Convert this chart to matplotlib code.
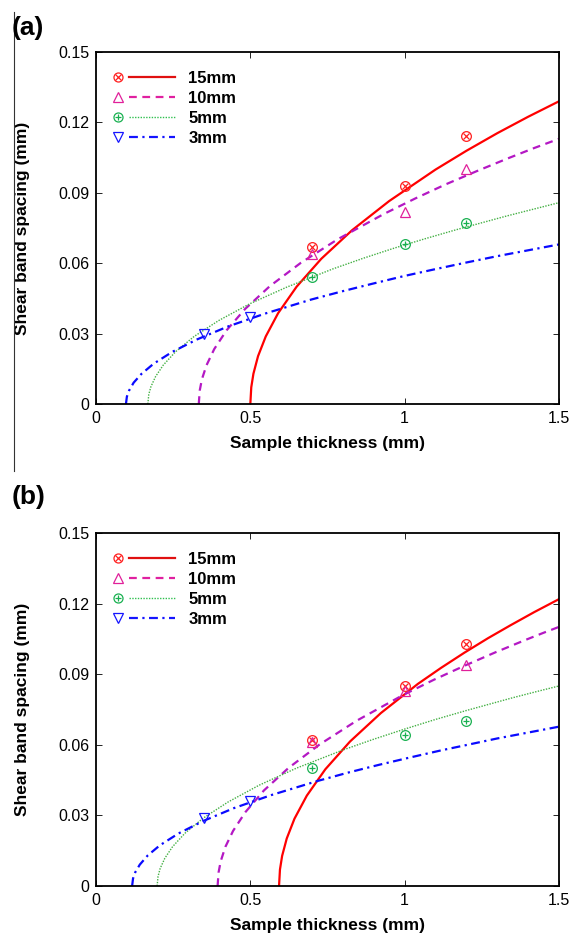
import matplotlib
matplotlib.use('Agg')
import matplotlib.pyplot as plt
from matplotlib.lines import Line2D
from matplotlib.legend_handler import HandlerBase

plt.rcParams['font.family'] = ['Liberation Sans', 'DejaVu Sans']

series_names = ['15mm', '10mm', '5mm', '3mm']

# measured points
pts_x_a = [[0.7, 1.0, 1.2], [0.7, 1.0, 1.2], [0.7, 1.0, 1.2], [0.35, 0.5]]
pts_y_a = [[0.067, 0.093, 0.114],
           [0.064, 0.082, 0.100],
           [0.054, 0.068, 0.077],
           [0.030, 0.037]]
pts_x_b = [[0.7, 1.0, 1.2], [0.7, 1.0, 1.2], [0.7, 1.0, 1.2], [0.35, 0.5]]
pts_y_b = [[0.062, 0.085, 0.103],
           [0.061, 0.083, 0.094],
           [0.050, 0.064, 0.070],
           [0.029, 0.036]]

# fitted curves
fit_x_a = [
    [0.5, 0.503, 0.51, 0.525, 0.55, 0.59, 0.65, 0.73, 0.83, 0.95, 1.1, 1.2, 1.3, 1.4, 1.5],
    [0.333, 0.336, 0.343, 0.358, 0.383, 0.423, 0.483, 0.563, 0.663, 0.783, 0.933, 1.033, 1.133, 1.233, 1.333, 1.42, 1.5],
    [0.168, 0.171, 0.178, 0.193, 0.218, 0.258, 0.318, 0.398, 0.498, 0.618, 0.768, 0.868, 0.968, 1.068, 1.168, 1.33, 1.5],
    [0.097, 0.1, 0.107, 0.122, 0.147, 0.187, 0.247, 0.327, 0.427, 0.547, 0.697, 0.797, 0.897, 0.997, 1.097, 1.2, 1.3, 1.4, 1.5],
]
fit_y_a = [
    [0, 0.0071, 0.0129, 0.0204, 0.0288, 0.0387, 0.05, 0.0619, 0.0741, 0.0865, 0.0999, 0.1079, 0.1154, 0.1224, 0.129],
    [0, 0.0057, 0.0105, 0.0165, 0.0234, 0.0314, 0.0405, 0.0502, 0.0601, 0.0702, 0.081, 0.0875, 0.0936, 0.0992, 0.1046, 0.1091, 0.113],
    [0, 0.0041, 0.0074, 0.0117, 0.0166, 0.0223, 0.0288, 0.0356, 0.0427, 0.0498, 0.0576, 0.0622, 0.0665, 0.0705, 0.0743, 0.0801, 0.0858],
    [0, 0.0031, 0.0057, 0.0091, 0.0128, 0.0172, 0.0222, 0.0275, 0.033, 0.0385, 0.0445, 0.048, 0.0513, 0.0545, 0.0574, 0.0603, 0.063, 0.0655, 0.068],
]
fit_x_b = [
    [0.593, 0.596, 0.603, 0.618, 0.643, 0.683, 0.743, 0.823, 0.923, 1.043, 1.118, 1.193, 1.27, 1.343, 1.42, 1.5],
    [0.394, 0.397, 0.404, 0.419, 0.444, 0.484, 0.544, 0.624, 0.724, 0.844, 0.994, 1.094, 1.194, 1.294, 1.394, 1.45, 1.5],
    [0.198, 0.201, 0.208, 0.223, 0.248, 0.288, 0.348, 0.428, 0.528, 0.648, 0.798, 0.898, 0.998, 1.098, 1.198, 1.35, 1.43, 1.5],
    [0.117, 0.12, 0.127, 0.142, 0.167, 0.207, 0.267, 0.347, 0.447, 0.567, 0.717, 0.817, 0.917, 1.017, 1.117, 1.2, 1.3, 1.4, 1.5],
]
fit_y_b = [
    [0, 0.007, 0.0128, 0.0202, 0.0286, 0.0384, 0.0496, 0.0614, 0.0735, 0.0859, 0.0927, 0.0991, 0.1053, 0.1108, 0.1164, 0.1219],
    [0, 0.0057, 0.0105, 0.0166, 0.0234, 0.0314, 0.0406, 0.0502, 0.0601, 0.0702, 0.0811, 0.0876, 0.0936, 0.0993, 0.1047, 0.1076, 0.1101],
    [0, 0.0041, 0.0075, 0.0118, 0.0167, 0.0224, 0.0289, 0.0357, 0.0428, 0.05, 0.0577, 0.0623, 0.0666, 0.0707, 0.0745, 0.08, 0.0827, 0.085],
    [0, 0.0032, 0.0058, 0.0091, 0.0129, 0.0173, 0.0223, 0.0276, 0.0331, 0.0386, 0.0446, 0.0482, 0.0515, 0.0546, 0.0576, 0.0599, 0.0627, 0.0652, 0.0677],
]

x_ticks = [0, 0.5, 1, 1.5]
x_ticklabels = ['0', '0.5', '1', '1.5']
y_ticks = [0, 0.03, 0.06, 0.09, 0.12, 0.15]
y_ticklabels = ['0', '0.03', '0.06', '0.09', '0.12', '0.15']

# styling: outer marker + optional inner mark (circled x, circled plus)
outer_markers = ['o', '^', 'o', 'v']
inner_markers = ['x', None, '+', None]
marker_sizes = [7, 7.5, 7, 7.5]
marker_colors = ['#ff2020', '#e0209a', '#18b050', '#1515ff']
curve_colors = ['#ff0000', '#b418c4', '#44b044', '#0a0aff']
legend_line_colors = ['#e01010', '#e020a0', '#30c050', '#1515ff']
line_styles = ['-', (0, (3.5, 2.5)), (0, (1, 1)), (0, (4, 2, 1, 2))]
line_widths = [1.6, 1.6, 1.0, 1.6]


class MarkerLeftHandler(HandlerBase):
    # marker at the left, a small gap, then the line
    def create_artists(self, legend, h, xdescent, ydescent, width, height,
                       fontsize, trans):
        i = h.get_gid()
        y = height / 2 - ydescent
        x0 = -xdescent
        arts = [Line2D([x0 + 11, x0 + width], [y, y],
                       color=legend_line_colors[i], ls=line_styles[i],
                       lw=line_widths[i])]
        arts.append(Line2D([x0 + 3.5], [y], ls='none', marker=outer_markers[i],
                           ms=marker_sizes[i] - 0.5, mec=marker_colors[i],
                           mfc='none', mew=0.9))
        if inner_markers[i]:
            arts.append(Line2D([x0 + 3.5], [y], ls='none',
                               marker=inner_markers[i],
                               ms=(marker_sizes[i] - 0.5) * 0.62,
                               mec=marker_colors[i], mew=0.9))
        for a in arts:
            a.set_transform(trans)
        return arts


def draw_panel(ax, pts_x, pts_y, fit_x, fit_y):
    for i in range(len(series_names)):
        ax.plot(fit_x[i], fit_y[i], color=curve_colors[i], ls=line_styles[i],
                lw=line_widths[i], zorder=2)
        ax.plot(pts_x[i], pts_y[i], ls='none', marker=outer_markers[i],
                ms=marker_sizes[i], mec=marker_colors[i], mfc='none',
                mew=0.9, zorder=3)
        if inner_markers[i]:
            ax.plot(pts_x[i], pts_y[i], ls='none', marker=inner_markers[i],
                    ms=marker_sizes[i] * 0.62, mec=marker_colors[i],
                    mew=0.9, zorder=3)

    ax.set_xlim(0, 1.5)
    ax.set_ylim(0, 0.15)
    ax.set_xticks(x_ticks)
    ax.set_xticklabels(x_ticklabels)
    ax.set_yticks(y_ticks)
    ax.set_yticklabels(y_ticklabels)
    ax.tick_params(direction='in', top=True, right=True, length=4, width=0.6,
                   labelsize=11.5, pad=5)
    for s in ax.spines.values():
        s.set_linewidth(1.3)
    ax.set_xlabel('Sample thickness (mm)', fontsize=12.5, fontweight='bold',
                  labelpad=7)
    ax.set_ylabel('Shear band spacing (mm)', fontsize=12.5, fontweight='bold',
                  labelpad=20)

    handles = []
    for i in range(len(series_names)):
        h = Line2D([], [])
        h.set_gid(i)
        handles.append(h)
    ax.legend(handles, series_names, loc='upper left',
              bbox_to_anchor=(0.005, 0.99), frameon=False,
              handler_map={Line2D: MarkerLeftHandler()},
              handlelength=3.7, handletextpad=0.8, labelspacing=0.3,
              prop={'weight': 'bold', 'size': 12})


fig = plt.figure(figsize=(5.73, 9.36), dpi=100)
ax_a = fig.add_axes([96 / 573, 1 - 404 / 936, 463 / 573, 352 / 936])
ax_b = fig.add_axes([96 / 573, 1 - 886 / 936, 463 / 573, 353 / 936])

draw_panel(ax_a, pts_x_a, pts_y_a, fit_x_a, fit_y_a)
draw_panel(ax_b, pts_x_b, pts_y_b, fit_x_b, fit_y_b)

fig.text(12 / 573, 1 - 28 / 936, '(a)', fontsize=19, fontweight='bold',
         ha='left', va='center')
fig.text(12 / 573, 1 - 497 / 936, '(b)', fontsize=19, fontweight='bold',
         ha='left', va='center')

# thin frame line left over from the original figure
fig.add_artist(Line2D([13.5 / 573, 13.5 / 573], [1 - 12 / 936, 1 - 471 / 936],
                      transform=fig.transFigure, color='#333333', lw=0.8))

fig.savefig('out.png', dpi=100)
